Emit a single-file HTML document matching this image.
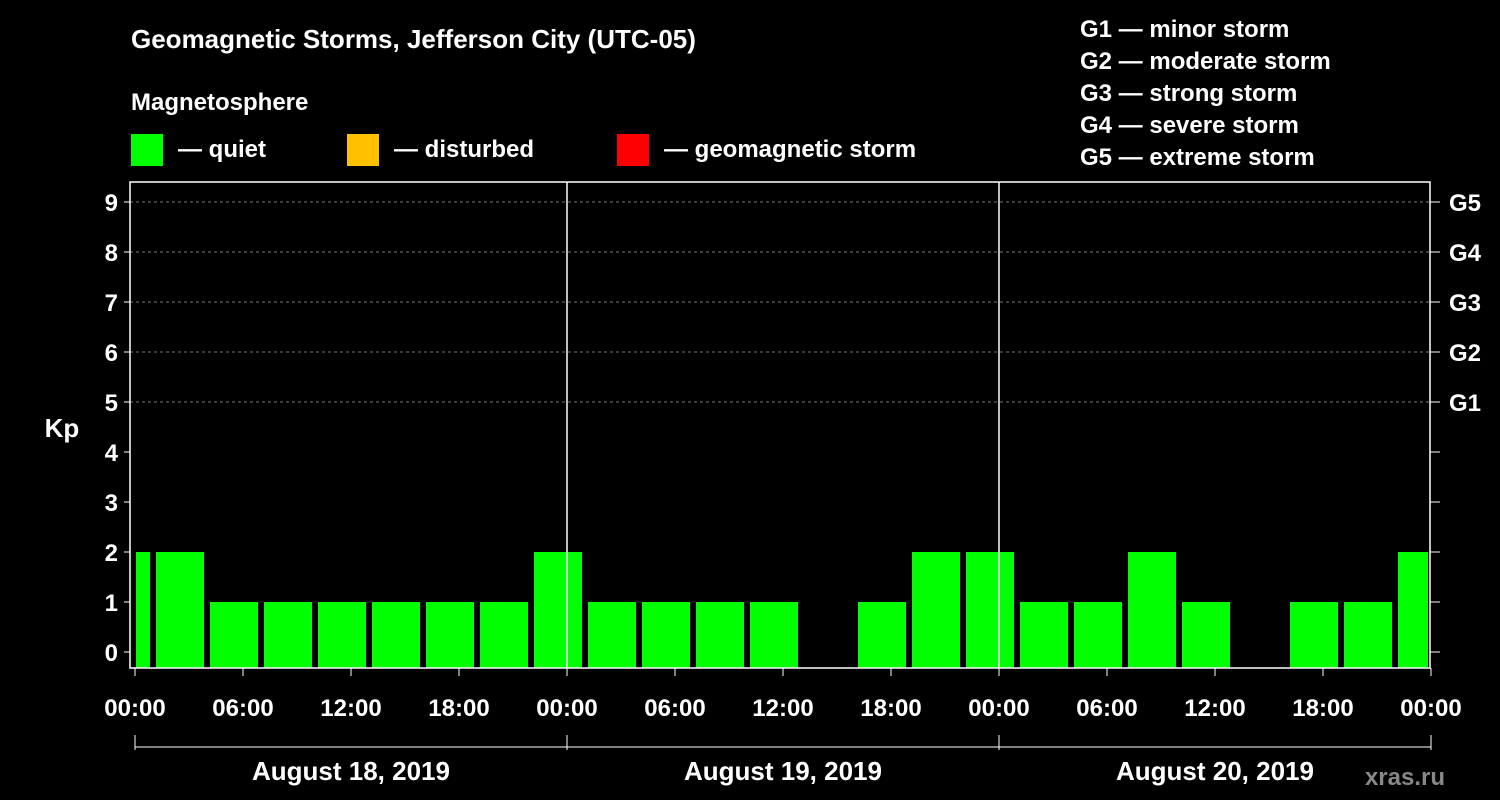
<!DOCTYPE html>
<html><head><meta charset="utf-8"><style>
body{margin:0;background:#000;width:1500px;height:800px;overflow:hidden}
svg{display:block}
text{font-family:"Liberation Sans",Arial,sans-serif;font-weight:bold;fill:#fff}
</style></head><body>
<svg id="c" width="1500" height="800" xmlns="http://www.w3.org/2000/svg">
<text x="131" y="48" font-size="26">Geomagnetic Storms, Jefferson City (UTC-05)</text>
<text x="131" y="110" font-size="24">Magnetosphere</text>
<rect x="131" y="134" width="32" height="32" fill="#00ff00"/>
<text x="178" y="157" font-size="24">— quiet</text>
<rect x="347" y="134" width="32" height="32" fill="#ffc000"/>
<text x="394" y="157" font-size="24">— disturbed</text>
<rect x="617" y="134" width="32" height="32" fill="#ff0000"/>
<text x="664" y="157" font-size="24">— geomagnetic storm</text>
<g font-size="24">
<text x="1080" y="37">G1 — minor storm</text>
<text x="1080" y="69">G2 — moderate storm</text>
<text x="1080" y="101">G3 — strong storm</text>
<text x="1080" y="133">G4 — severe storm</text>
<text x="1080" y="165">G5 — extreme storm</text>
</g>
<text x="62" y="437" font-size="26" text-anchor="middle">Kp</text>
<text x="1445" y="785" font-size="24" text-anchor="end" fill="#888" style="fill:#888">xras.ru</text>
<g id="plot"></g>
</svg>
<script>
const kpValues=[2,2,1,1,1,1,1,1,2,1,1,1,1,null,1,2,2,1,1,2,1,null,1,1,2];
const startHours=[-2,1,4,7,10,13,16,19,22,25,28,31,34,37,40,43,46,49,52,55,58,61,64,67,70];
const yTicks=[0,1,2,3,4,5,6,7,8,9];
const gLabels=["G1","G2","G3","G4","G5"];
const xTickLabels=["00:00","06:00","12:00","18:00","00:00","06:00","12:00","18:00","00:00","06:00","12:00","18:00","00:00"];
const dayLabels=["August 18, 2019","August 19, 2019","August 20, 2019"];
const NS="http://www.w3.org/2000/svg";
const L=130,R=1430,T=182,B=668,X0=135,PXH=18;
const x=h=>X0+h*PXH;
const y=v=>652-50*v;
const g=document.getElementById('plot');
function mk(t,a,p){const e=document.createElementNS(NS,t);for(const k in a)e.setAttribute(k,a[k]);(p||g).appendChild(e);return e;}
// grid
for(let v=5;v<=9;v++){const e=mk('line',{x1:L,x2:R,y1:y(v),y2:y(v),stroke:'#777','stroke-dasharray':'3,3'});

}
// bars
kpValues.forEach((v,i)=>{if(v===null)return;
let a=x(startHours[i])+3,b=x(startHours[i]+3)-3;
a=Math.max(a,x(0)+1);b=Math.min(b,x(72)-3);
const e=mk('rect',{x:a,y:y(v),width:b-a,height:B-y(v),fill:'#00ff00'});

});
// frame
const fr=mk('rect',{x:L,y:T,width:R-L,height:B-T,fill:'none',stroke:'#fff','stroke-width':1.5});


[24,48].forEach(h=>{const e=mk('line',{x1:x(h),x2:x(h),y1:T,y2:B,stroke:'#fff','stroke-width':1.5});

});
// y ticks
yTicks.forEach(v=>{
const t=mk('text',{x:118,y:y(v)+9,'font-size':24,'text-anchor':'end'});t.textContent=v;


mk('line',{x1:L-6,x2:L,y1:y(v),y2:y(v),stroke:'#fff'});
mk('line',{x1:R,x2:R+10,y1:y(v),y2:y(v),stroke:'#fff'});});
gLabels.forEach((s,i)=>{const t=mk('text',{x:1449,y:y(5+i)+9,'font-size':24});t.textContent=s;

});
// x ticks
xTickLabels.forEach((s,i)=>{const h=i*6;
mk('line',{x1:x(h),x2:x(h),y1:B,y2:B+8,stroke:'#fff'});
const t=mk('text',{x:x(h),y:716,'font-size':24,'text-anchor':'middle'});t.textContent=s;

});
mk('line',{x1:x(0),x2:x(72),y1:747,y2:747,stroke:'#fff'});
[0,24,48,72].forEach(h=>mk('line',{x1:x(h),x2:x(h),y1:735,y2:750,stroke:'#fff'}));
dayLabels.forEach((s,i)=>{const t=mk('text',{x:x(i*24+12),y:780,'font-size':26,'text-anchor':'middle'});t.textContent=s;

});
</script>
</body></html>
